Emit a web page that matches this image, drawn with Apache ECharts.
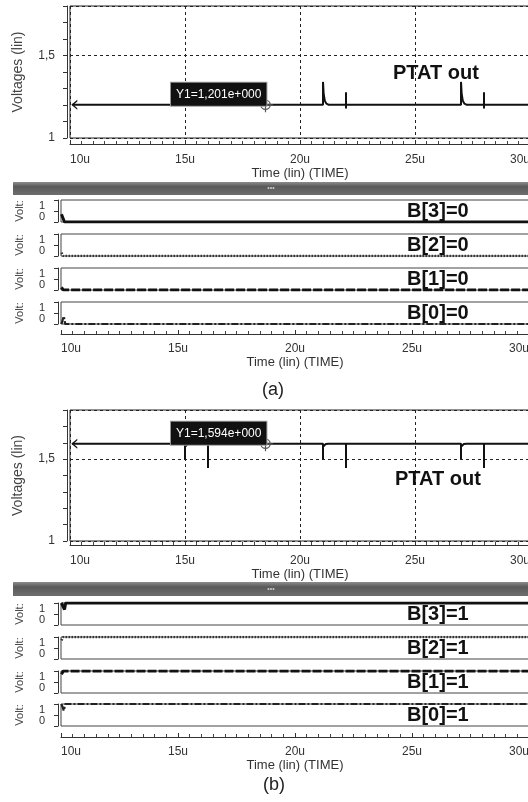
<!DOCTYPE html>
<html><head><meta charset="utf-8">
<script src="https://cdn.jsdelivr.net/npm/echarts@6/dist/echarts.min.js"></script>
<style>html,body{margin:0;padding:0;background:#fff}#c{width:528px;height:802px}</style>
</head><body><div id="c"></div>
<script>
// ---------- data ----------
const xTicks = [10, 15, 20, 25, 30];              // time, microseconds
const xTickLabels = ['10u', '15u', '20u', '25u', '30u'];
const yTicksAnalog = [1, 1.5];
const yTickLabelsAnalog = ['1', '1,5'];
const yTicksDigital = [0, 1];
const yTickLabelsDigital = ['0', '1'];
const timeAxisName = 'Time (lin) (TIME)';
const analogAxisName = 'Voltages (lin)';
const digitalAxisName = 'Volt:';
const traceName = 'PTAT out';
const panelLabels = ['(a)', '(b)'];

// PTAT output, panel (a)  [time(us), volts]
const ptatA = [
  [10.1, 1.201], [21, 1.201], [21, 1.34], [21.03, 1.265], [21.08, 1.225], [21.15, 1.208], [21.25, 1.201],
  [22, 1.201], [22, 1.278], [22, 1.179], [22, 1.201],
  [27, 1.201], [27, 1.34], [27.03, 1.265], [27.08, 1.225], [27.15, 1.208], [27.25, 1.201],
  [28, 1.201], [28, 1.278], [28, 1.179], [28, 1.201], [30.3, 1.201]
];
// PTAT output, panel (b)
const ptatB = [
  [10.1, 1.594], [15, 1.594], [15, 1.5], [15, 1.575], [15.05, 1.586], [15.12, 1.592], [15.25, 1.594],
  [16, 1.594], [16, 1.605], [16, 1.446], [16, 1.594],
  [21, 1.594], [21, 1.5], [21, 1.575], [21.05, 1.586], [21.12, 1.592], [21.25, 1.594],
  [22, 1.594], [22, 1.605], [22, 1.446], [22, 1.594],
  [27, 1.594], [27, 1.5], [27, 1.575], [27.05, 1.586], [27.12, 1.592], [27.25, 1.594],
  [28, 1.594], [28, 1.605], [28, 1.446], [28, 1.594], [30.3, 1.594]
];
const cursorA = { t: 18.5, v: 1.201, text: 'Y1=1,201e+000' };
const cursorB = { t: 18.5, v: 1.594, text: 'Y1=1,594e+000' };

const bitNames = ['B[3]', 'B[2]', 'B[1]', 'B[0]'];
const bitValuesA = [0, 0, 0, 0];
const bitValuesB = [1, 1, 1, 1];
const bitTracesA = [
  [[10.02, 0.35], [10.15, 0], [30.3, 0]],
  [[10.02, 0.15], [10.1, 0], [30.3, 0]],
  [[10.02, 0.12], [10.1, 0], [30.3, 0]],
  [[10.02, 0], [10.12, 0.35], [10.18, 0], [30.3, 0]]
];
const bitTracesB = [
  [[10.02, 1], [10.15, 0.7], [10.2, 1], [30.3, 1]],
  [[10.02, 0.85], [10.1, 1], [30.3, 1]],
  [[10.02, 0.85], [10.1, 1], [30.3, 1]],
  [[10.02, 1], [10.12, 0.7], [10.18, 1], [30.3, 1]]
];

// ---------- styling / layout ----------
const FONT = 'Liberation Sans, Arial, sans-serif';
const INK = '#222';
const dash = { color: '#222', type: [3, 3], width: 1 };
const bitStyles = [
  { color: '#111', width: 3, type: 'solid' },
  { color: '#333', width: 2.5, type: [1.5, 1.5] },
  { color: '#111', width: 3, type: [9, 2] },
  { color: '#222', width: 2.2, type: [7, 2, 2, 2] }
];
const chevron = 'path://M6,0L0,5L6,10L6,8.4L2.2,5L6,1.6Z';
const crosshair = 'path://M0,-5A5,5,0,1,1,0,5A5,5,0,1,1,0,-5ZM-8,0L8,0M0,-8L0,8';

const grids = [], xAxes = [], yAxes = [], series = [], graphics = [];
const tickLabel = v => { const i = xTicks.indexOf(v); return i < 0 ? '' : xTickLabels[i]; };

function addAnalog(top, height, rulerOffset, data, cursor) {
  const gi = grids.length;
  grids.push({ left: 70, right: -2, top, height, outerBoundsMode: 'none', containLabel: false,
    show: true, borderColor: INK, borderWidth: 1, backgroundColor: '#fff' });
  const xi = xAxes.length;
  xAxes.push({
    gridIndex: gi, type: 'value', min: 10, max: 30, interval: 5, position: 'bottom', offset: rulerOffset,
    axisLine: { show: true, onZero: false, lineStyle: { color: '#333', width: 1 } },
    axisTick: { show: true, inside: true, length: 4, lineStyle: { color: '#333' } },
    minorTick: { show: true, splitNumber: 10, length: 3, lineStyle: { color: '#444' } },
    axisLabel: { margin: 10, fontSize: 12, color: '#333', fontFamily: FONT, formatter: tickLabel,
      alignMinLabel: 'left', alignMaxLabel: 'right' },
    splitLine: { show: true, lineStyle: dash },
    name: timeAxisName, nameLocation: 'middle', nameGap: 19,
    nameTextStyle: { fontSize: 13, color: '#333', fontFamily: FONT }
  });
  const yi = yAxes.length;
  yAxes.push({
    gridIndex: gi, type: 'value', min: 1, max: 1.8, interval: 0.5, position: 'left', offset: 3,
    axisLine: { show: true, onZero: false, lineStyle: { color: '#333' } },
    axisTick: { show: false },
    axisLabel: { showMaxLabel: false, margin: 12, fontSize: 12, color: '#333', fontFamily: FONT,
      formatter: v => { const i = yTicksAnalog.indexOf(v); return i < 0 ? '' : yTickLabelsAnalog[i]; } },
    splitLine: { show: true, lineStyle: dash },
    name: analogAxisName, nameLocation: 'middle', nameGap: 42,
    nameTextStyle: { fontSize: 14, color: '#444', fontFamily: FONT }
  });
  yAxes.push({
    gridIndex: gi, type: 'value', min: 1, max: 1.8, interval: 0.1, position: 'left', offset: 3,
    axisLine: { show: false, onZero: false }, axisLabel: { show: false }, splitLine: { show: false },
    axisTick: { show: true, length: 4, lineStyle: { color: '#333' } }
  });
  const d = data.map((p, i) => i === 0
    ? { value: p, symbol: chevron, symbolSize: [6, 10], symbolOffset: [2, 0], itemStyle: { color: '#111' } }
    : p);
  series.push({
    type: 'line', xAxisIndex: xi, yAxisIndex: yi, data: d, symbol: 'none', showSymbol: true,
    lineStyle: { color: '#111', width: 2 }, silent: true, animation: false, z: 3
  });
  series.push({
    type: 'scatter', xAxisIndex: xi, yAxisIndex: yi, data: [[cursor.t, cursor.v]],
    symbol: crosshair, symbolSize: 15, silent: true, animation: false, z: 5,
    itemStyle: { color: 'rgba(0,0,0,0)', borderColor: '#555', borderWidth: 1.2, opacity: 1 },
    label: { show: true, formatter: cursor.text, position: [9, 9], align: 'right', verticalAlign: 'bottom',
      backgroundColor: '#111', borderColor: '#999', borderWidth: 1, padding: [6, 5, 5, 5],
      color: '#fff', fontSize: 12, fontFamily: FONT }
  });
}

function addDigital(tops, traces, values, rulerOffset) {
  tops.forEach((top, r) => {
    const gi = grids.length;
    grids.push({ left: 61, right: -1, top, height: 22, outerBoundsMode: 'none', containLabel: false,
      show: true, borderColor: '#444', borderWidth: 1, backgroundColor: '#fff' });
    const last = r === tops.length - 1;
    const xi = xAxes.length;
    xAxes.push(last ? {
      gridIndex: gi, type: 'value', min: 10, max: 30, interval: 5, position: 'bottom', offset: rulerOffset,
      axisLine: { show: true, onZero: false, lineStyle: { color: '#333' } },
      axisTick: { show: true, inside: true, length: 4, lineStyle: { color: '#333' } },
      minorTick: { show: true, splitNumber: 10, length: 3, lineStyle: { color: '#444' } },
      axisLabel: { margin: 9, fontSize: 12, color: '#333', fontFamily: FONT, formatter: tickLabel,
        alignMinLabel: 'left', alignMaxLabel: 'right' },
      splitLine: { show: false },
      name: timeAxisName, nameLocation: 'middle', nameGap: 19,
      nameTextStyle: { fontSize: 13, color: '#333', fontFamily: FONT }
    } : { gridIndex: gi, type: 'value', min: 10, max: 30, show: false });
    const yi = yAxes.length;
    yAxes.push({
      gridIndex: gi, type: 'value', min: 0, max: 1, interval: 0.5, position: 'left', offset: 3,
      axisLine: { show: true, onZero: false, lineStyle: { color: '#333' } },
      axisTick: { show: true, length: 4, lineStyle: { color: '#333' } },
      axisLabel: { margin: 13, fontSize: 11, color: '#333', fontFamily: FONT,
        verticalAlignMinLabel: 'bottom', verticalAlignMaxLabel: 'top',
        formatter: v => { const i = yTicksDigital.indexOf(v); return i < 0 ? '' : yTickLabelsDigital[i]; } },
      splitLine: { show: false },
      name: digitalAxisName, nameLocation: 'middle', nameGap: 33,
      nameTextStyle: { fontSize: 11, color: '#444', fontFamily: FONT }
    });
    series.push({
      type: 'line', xAxisIndex: xi, yAxisIndex: yi, data: traces[r], showSymbol: false,
      lineStyle: bitStyles[r], silent: true, animation: false, z: 4
    });
    graphics.push({
      type: 'text', x: 407, y: top + 11, silent: true, z: 10,
      style: { text: bitNames[r] + '=' + values[r], font: 'bold 20px ' + FONT, fill: '#111', verticalAlign: 'middle' }
    });
  });
}

function addSeparator(top, height) {
  graphics.push({
    type: 'rect', shape: { x: 13, y: top, width: 520, height }, silent: true,
    style: { fill: new echarts.graphic.LinearGradient(0, 0, 0, 1, [
      { offset: 0, color: '#8c8c8c' }, { offset: 0.35, color: '#5a5a5a' }, { offset: 1, color: '#6e6e6e' }]) }
  });
  graphics.push({
    type: 'text', x: 271, y: top + height / 2, silent: true,
    style: { text: '•••', font: '7px ' + FONT, fill: '#c8c8c8', align: 'center', verticalAlign: 'middle' }
  });
}

addAnalog(6, 132, 6, ptatA, cursorA);
addDigital([200, 234, 268, 302], bitTracesA, bitValuesA, 10);
addAnalog(410, 131, 4, ptatB, cursorB);
addDigital([603, 637, 671, 704], bitTracesB, bitValuesB, 11);
addSeparator(182, 13);
addSeparator(582, 14);

graphics.push({ type: 'text', x: 393, y: 73, silent: true, z: 10,
  style: { text: traceName, font: 'bold 20px ' + FONT, fill: '#111', verticalAlign: 'middle' } });
graphics.push({ type: 'text', x: 395, y: 479, silent: true, z: 10,
  style: { text: traceName, font: 'bold 20px ' + FONT, fill: '#111', verticalAlign: 'middle' } });
graphics.push({ type: 'text', x: 273, y: 390, silent: true,
  style: { text: panelLabels[0], font: '18px ' + FONT, fill: '#222', align: 'center', verticalAlign: 'middle' } });
graphics.push({ type: 'text', x: 274, y: 785, silent: true,
  style: { text: panelLabels[1], font: '18px ' + FONT, fill: '#222', align: 'center', verticalAlign: 'middle' } });

const chart = echarts.init(document.getElementById('c'), null, { renderer: 'canvas' });
chart.setOption({
  backgroundColor: '#fff', animation: false,
  grid: grids, xAxis: xAxes, yAxis: yAxes, series, graphic: graphics
});
</script></body></html>
